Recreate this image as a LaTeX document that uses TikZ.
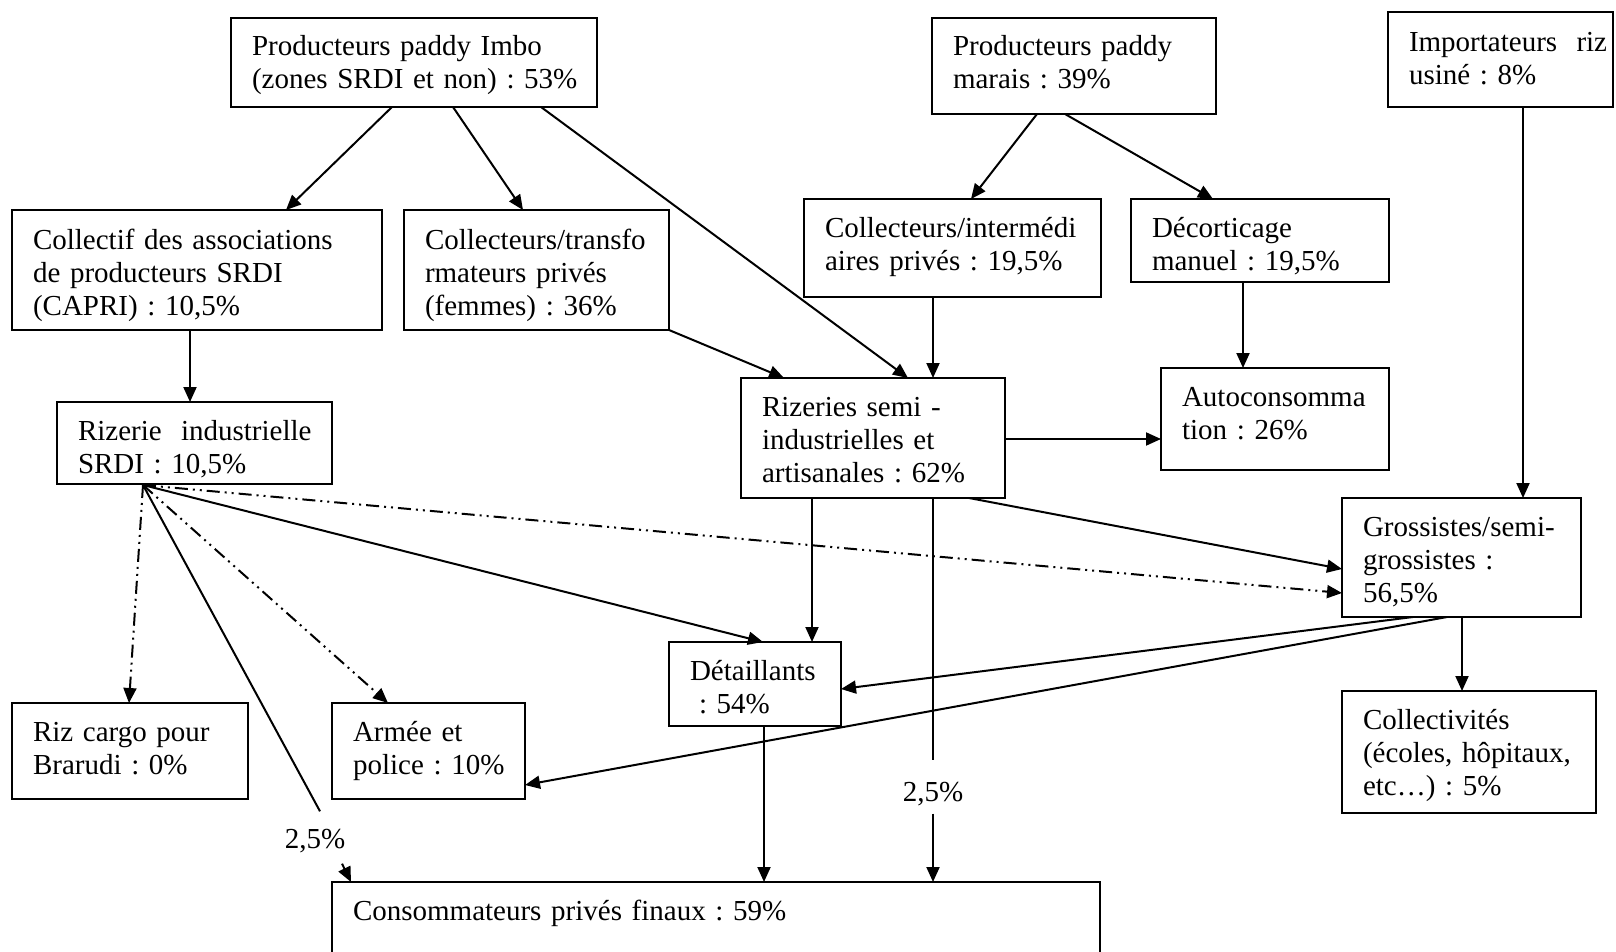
\documentclass[tikz,border=0pt]{standalone}
\usepackage{fontspec}
\setmainfont{Liberation Serif}
\usetikzlibrary{arrows.meta}
\newcommand\boxfont{\fontsize{29}{33}\selectfont\frenchspacing}
\begin{document}
\begin{tikzpicture}[x=1pt,y=-1pt,
  box/.style={draw, line width=2pt, anchor=north west, align=left,
    inner xsep=21pt, inner ysep=0pt, outer sep=0pt, text height=38pt,
    font=\boxfont, execute at begin node={\hyphenpenalty=10000\exhyphenpenalty=10000}},
  lbl/.style={font=\boxfont, inner sep=0pt, text height=20pt, text depth=5pt},
  ln/.style={line width=2pt},
  arr/.style={line width=2pt, -{Triangle[length=15pt,width=13pt]}},
  dd/.style={arr, dash pattern=on 13pt off 5pt on 2pt off 5pt on 2pt off 5pt}]
\useasboundingbox (0,0) rectangle (1616,952);

% boxes
\node[box, text width=324pt, text depth=51pt] (imbo) at (231,18)
  {Producteurs paddy Imbo\\(zones~SRDI~et~non)~:~53\%};
\node[box, text width=242pt, text depth=58pt] (marais) at (932,18)
  {Producteurs paddy\\marais : 39\%};
\node[box, text width=183pt, text height=40pt, text depth=55pt] (import) at (1388,12)
  {Importateurs~~riz\\usiné : 8\%};
\node[box, text width=328pt, text height=39pt, text depth=81pt] (capri) at (12,210)
  {Collectif~des~associations\\de~producteurs~SRDI\\(CAPRI) : 10,5\%};
\node[box, text width=223pt, text height=39pt, text depth=81pt] (coltr) at (404,210)
  {Collecteurs/transfo\\rmateurs privés\\(femmes) : 36\%};
\node[box, text width=255pt, text depth=60pt] (colin) at (804,199)
  {Collecteurs/intermédi\\aires~privés~:~19,5\%};
\node[box, text width=216pt, text depth=45pt] (decor) at (1131,199)
  {Décorticage\\manuel : 19,5\%};
\node[box, text width=233pt, text depth=44pt] (rizsrdi) at (57,402)
  {Rizerie~~industrielle\\SRDI : 10,5\%};
\node[box, text width=222pt, text depth=82pt] (rizsemi) at (741,378)
  {Rizeries~semi~-\\industrielles~et\\artisanales~:~62\%};
\node[box, text width=186pt, text depth=64pt] (auto) at (1161,368)
  {Autoconsomma\\tion : 26\%};
\node[box, text width=197pt, text depth=81pt] (gross) at (1342,498)
  {Grossistes/semi-\\grossistes :\\56,5\%};
\node[box, text width=212pt, text depth=84pt] (collv) at (1342,691)
  {Collectivités\\(écoles,~hôpitaux,\\etc…) : 5\%};
\node[box, text width=130pt, text depth=46pt] (detail) at (669,642)
  {Détaillants\\\hspace*{9pt}: 54\%};
\node[box, text width=194pt, text depth=58pt] (cargo) at (12,703)
  {Riz~cargo~pour\\Brarudi~:~0\%};
\node[box, text width=151pt, text depth=58pt] (armee) at (332,703)
  {Armée et\\police~:~10\%};
\node[box, text width=726pt, text depth=36pt] (conso) at (332,882)
  {Consommateurs privés finaux : 59\%};

% labels
\node[lbl] (lbl1) at (315,841) {2,5\%};
\node[lbl] (lbl2) at (933,794) {2,5\%};

% connectors from the top row
\draw[arr] ([xshift=161pt]imbo.south west) -- ([xshift=274pt]capri.north west);
\draw[arr] ([xshift=222pt]imbo.south west) -- ([xshift=119pt]coltr.north west);
\draw[arr] ([xshift=310pt]imbo.south west) -- ([xshift=167pt]rizsemi.north west);
\draw[arr] ([xshift=105pt]marais.south west) -- ([xshift=167pt]colin.north west);
\draw[arr] ([xshift=133pt]marais.south west) -- ([xshift=82pt]decor.north west);
\draw[arr] ([xshift=135pt]import.south west) -- ([xshift=181pt]gross.north west);

% second row
\draw[arr] ([xshift=178pt]capri.south west) -- ([xshift=133pt]rizsrdi.north west);
\draw[arr] (coltr.south east) -- ([xshift=43pt]rizsemi.north west);
\draw[arr] ([xshift=129pt]colin.south west) -- ([xshift=192pt]rizsemi.north west);
\draw[arr] ([xshift=112pt]decor.south west) -- ([xshift=82pt]auto.north west);

% from rizeries semi-industrielles
\draw[arr] ([yshift=-61pt]rizsemi.north east) -- ([yshift=-71pt]auto.north west);
\draw[arr] ([xshift=228pt]rizsemi.south west) -- ([yshift=-71pt]gross.north west);
\draw[arr] ([xshift=71pt]rizsemi.south west) -- ([xshift=143pt]detail.north west);
\draw[ln] ([xshift=192pt]rizsemi.south west) -- ([yshift=21pt]lbl2.north);
\draw[arr] ([yshift=-7pt]lbl2.south) -- ([xshift=601pt]conso.north west);

% from grossistes
\draw[arr] ([xshift=71pt]gross.south west) -- ([yshift=-47pt]detail.north east);
\draw[arr] ([xshift=105pt]gross.south west) -- ([yshift=-82pt]armee.north east);
\draw[arr] ([xshift=120pt]gross.south west) -- ([xshift=120pt]collv.north west);

% from detaillants
\draw[arr] ([xshift=95pt]detail.south west) -- ([xshift=432pt]conso.north west);

% from rizerie industrielle SRDI
\coordinate (o) at ([xshift=86pt,yshift=-1pt]rizsrdi.south west);
\draw[dd] (o) -- ([xshift=117pt]cargo.north west);
\draw[dd] (o) -- ([xshift=56pt]armee.north west);
\draw[dd] (o) -- ([yshift=-95pt]gross.north west);
\draw[arr] (o) -- ([xshift=94pt]detail.north west);
\draw[ln] (o) -- ([xshift=5pt,yshift=17pt]lbl1.north);
\draw[arr] ([xshift=27pt,yshift=-10pt]lbl1.south) -- ([xshift=19pt]conso.north west);
\end{tikzpicture}
\end{document}
